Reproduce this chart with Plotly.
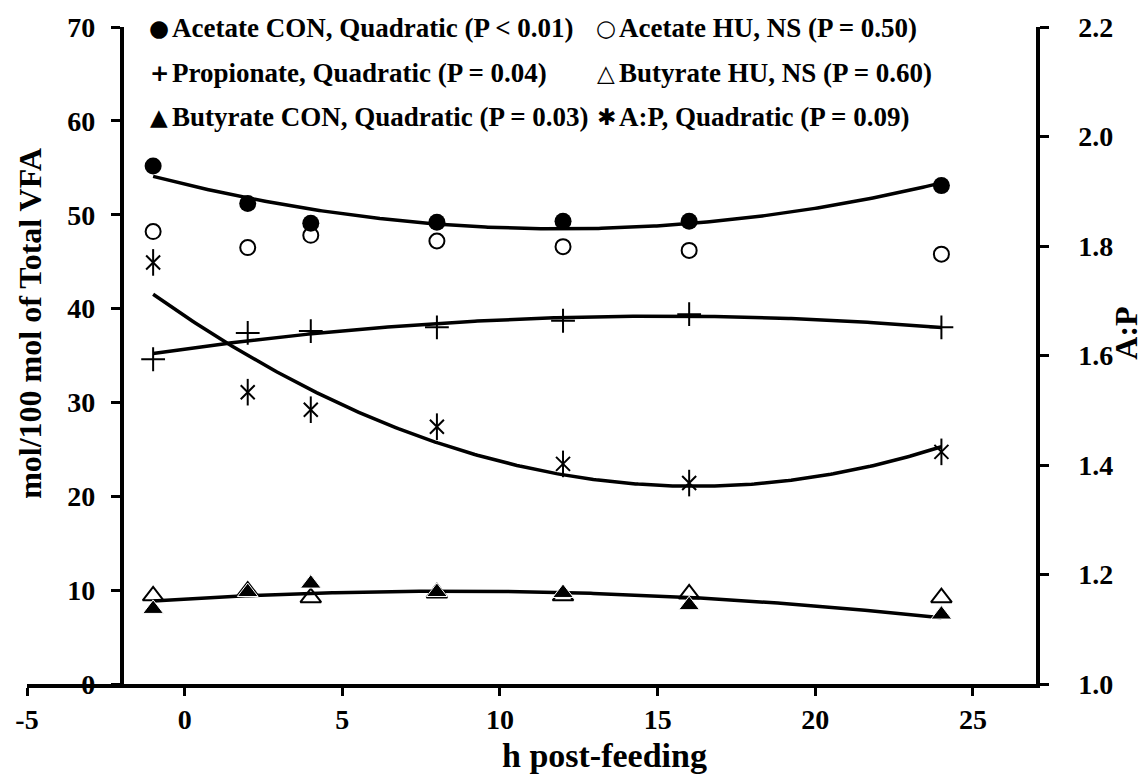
import numpy as np
import plotly.graph_objects as go

# ---------------- data ----------------
hours = [-1, 2, 4, 8, 12, 16, 24]
acetate_con = [55.2, 51.2, 49.1, 49.2, 49.3, 49.3, 53.1]
acetate_hu = [48.2, 46.5, 47.8, 47.2, 46.6, 46.2, 45.8]
propionate = [34.6, 37.4, 37.6, 38.0, 38.7, 39.4, 38.0]
butyrate_con = [8.0, 9.8, 10.7, 9.8, 9.7, 8.4, 7.4]
butyrate_hu = [9.4, 9.9, 9.2, 9.7, 9.4, 9.6, 9.2]
ap_ratio = [1.770, 1.533, 1.501, 1.470, 1.402, 1.367, 1.424]

x_ticks = [-5, 0, 5, 10, 15, 20, 25]
left_ticks = [0, 10, 20, 30, 40, 50, 60, 70]
right_ticks = [1.0, 1.2, 1.4, 1.6, 1.8, 2.0, 2.2]

legend_labels = [
    ("●", "Acetate CON, Quadratic (P < 0.01)"),
    ("○", "Acetate HU, NS (P = 0.50)"),
    ("+", "Propionate, Quadratic (P = 0.04)"),
    ("△", "Butyrate HU, NS (P = 0.60)"),
    ("▲", "Butyrate CON, Quadratic (P = 0.03)"),
    ("✱", "A:P, Quadratic (P = 0.09)"),
]

FONT = "Liberation Serif"
W, H = 1148, 784
L, R, T, B = 27, 1036, 20, 684


def px(xp):
    return (xp - L) / (R - L)


def py(yp):
    return (B - yp) / (B - T)


fig = go.Figure()

xs = np.linspace(min(hours), max(hours), 300)


def fit_line(vals, yaxis="y"):
    coef = np.polyfit(hours, vals, 2)
    fig.add_trace(go.Scatter(x=xs, y=np.polyval(coef, xs), mode="lines",
                             line=dict(color="black", width=3.5),
                             yaxis=yaxis, showlegend=False, hoverinfo="skip"))


fit_line(acetate_con)
fit_line(propionate)
fit_line(butyrate_con)

fig.add_trace(go.Scatter(x=hours, y=acetate_hu, mode="markers", showlegend=False,
                         marker=dict(symbol="circle-open", size=15, color="black",
                                     line=dict(width=2, color="black"))))
fig.add_trace(go.Scatter(x=hours, y=acetate_con, mode="markers", showlegend=False,
                         marker=dict(symbol="circle", size=17, color="black",
                                     line=dict(width=0))))
fig.add_trace(go.Scatter(x=hours, y=propionate, mode="markers", showlegend=False,
                         marker=dict(symbol="cross-thin-open", size=17, color="black",
                                     line=dict(width=2, color="black"))))
fig.add_trace(go.Scatter(x=hours, y=butyrate_hu, mode="markers", showlegend=False,
                         marker=dict(symbol="triangle-up-open", size=18, color="black",
                                     line=dict(width=2, color="black"))))
fig.add_trace(go.Scatter(x=hours, y=butyrate_con, mode="markers", showlegend=False,
                         marker=dict(symbol="triangle-up", size=18, color="black",
                                     line=dict(width=1, color="white"))))

# A:P on secondary axis
fit_line(ap_ratio, yaxis="y2")
fig.add_trace(go.Scatter(x=hours, y=ap_ratio, mode="markers", yaxis="y2", showlegend=False,
                         marker=dict(symbol="x-thin-open", size=14, color="black",
                                     line=dict(width=2, color="black"))))
fig.add_trace(go.Scatter(x=hours, y=ap_ratio, mode="markers", yaxis="y2", showlegend=False,
                         marker=dict(symbol="line-ns-open", size=19, color="black",
                                     line=dict(width=2, color="black"))))

tickfont = dict(family=FONT, size=28, color="black", weight="bold")

fig.update_layout(
    width=W, height=H,
    margin=dict(l=L, r=W - R, t=T, b=H - B),
    paper_bgcolor="white", plot_bgcolor="white",
    showlegend=False,
    xaxis=dict(range=[-5, 27], tickvals=x_ticks, ticktext=[str(v) for v in x_ticks],
               showline=True, linecolor="black",
               linewidth=3.5, ticks="outside", ticklen=8, tickwidth=3, tickcolor="black",
               showgrid=False, zeroline=False, tickfont=tickfont),
    yaxis=dict(range=[0, 70], tickvals=left_ticks, showline=True, linecolor="black",
               linewidth=3.5, ticks="outside", ticklen=9, tickwidth=3, tickcolor="black",
               showgrid=False, zeroline=False, tickfont=tickfont,
               anchor="free", position=(-2 - (-5)) / (27 - (-5)), ticklabelstandoff=10),
    yaxis2=dict(range=[1.0, 2.2], tickvals=right_ticks, tickformat=".1f", overlaying="y",
                side="right", anchor="x", showline=True, linecolor="black", linewidth=3.5,
                ticks="outside", ticklen=9, tickwidth=3, tickcolor="black",
                showgrid=False, zeroline=False, tickfont=tickfont, ticklabelstandoff=24),
)

annots = []
titlefont = dict(family=FONT, size=32, color="black", weight="bold")
annots.append(dict(text="mol/100 mol of Total VFA", textangle=-90, x=px(30), y=py(320),
                   xref="paper", yref="paper", showarrow=False, font=titlefont,
                   xanchor="center", yanchor="middle"))
annots.append(dict(text="h post-feeding", x=px(604), y=py(756),
                   xref="paper", yref="paper", showarrow=False,
                   font=dict(family=FONT, size=34, color="black", weight="bold"),
                   xanchor="center", yanchor="middle"))
annots.append(dict(text="A:P", textangle=-90, x=px(1126), y=py(330),
                   xref="paper", yref="paper", showarrow=False, font=titlefont,
                   xanchor="center", yanchor="middle"))

legfont = dict(family=FONT, size=27, color="black", weight="bold")
symfont = dict(family="DejaVu Sans", size=23, color="black", weight="bold")
col_x = [159, 606]
row_y = [21, 66, 111]
for i, (sym, lab) in enumerate(legend_labels):
    cx = col_x[i % 2]
    cy = row_y[i // 2]
    annots.append(dict(text=sym, x=px(cx), y=py(cy), xref="paper", yref="paper",
                       showarrow=False, font=symfont, xanchor="center", yanchor="middle"))
    annots.append(dict(text=lab, x=px(cx + 11), y=py(cy), xref="paper", yref="paper",
                       showarrow=False, font=legfont, xanchor="left", yanchor="middle"))

fig.update_layout(annotations=annots)
fig.write_html("out.html")
